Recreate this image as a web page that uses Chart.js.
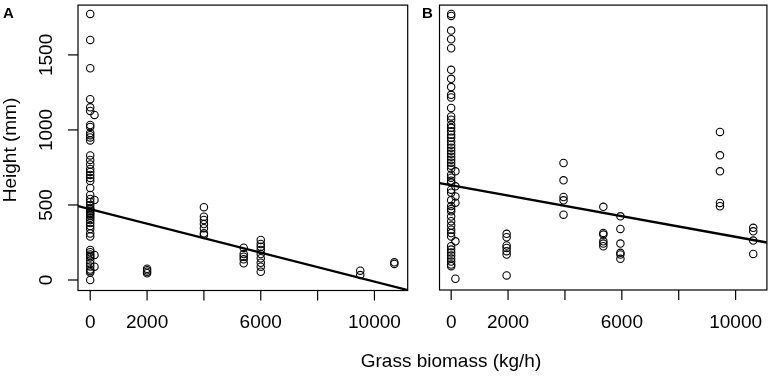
<!DOCTYPE html>
<html>
<head>
<meta charset="utf-8">
<script src="https://cdn.jsdelivr.net/npm/chart.js@4"></script>
<style>
    body { margin: 0; background: #fff; }
    #wrap { position: relative; width: 772px; height: 379px; overflow: hidden; }
    canvas { position: absolute; top: 0; }
    #xtitulo {
        position: absolute; left: 0; top: 350px; width: 902px;
        text-align: center; font: 19px "Liberation Sans", Arial, sans-serif; color: #000;
    }
</style>
</head>
<body>
<div id="wrap">
    <canvas id="chartA" width="420" height="379" style="left:0"></canvas>
    <canvas id="chartB" width="352" height="379" style="left:420px"></canvas>
    <div id="xtitulo">Grass biomass (kg/h)</div>
</div>
<script>
// valores
const biomassA = [0, 2000, 4000, 5400, 6000, 9500, 10700];
const biomassB = [0, 1950, 3950, 5350, 5950, 9450, 10620];
const offsetX = 150; // puntos desplazados junto a 0

// panel A, altura (mm) por grupo de biomasa
const heightA0 = [1773, 1600, 1411, 1205, 1151, 1127, 1033, 1020, 980, 965, 950, 930,
    830, 800, 770, 740, 720, 700, 680, 660, 613, 567, 540, 520, 500, 480, 470, 460,
    450, 440, 430, 415, 400, 380, 360, 340, 310, 290, 200, 185, 170, 160, 150, 130,
    110, 90, 70, 60, 50, 0];
const heightA0off = [1100, 533, 167, 89];
const heightA2000 = [75, 65, 55, 45];
const heightA4000 = [485, 422, 400, 373, 345, 311, 300];
const heightA5400 = [215, 173, 155, 138, 111];
const heightA6000 = [267, 240, 222, 200, 173, 145, 115, 89, 55];
const heightA9500 = [62, 33];
const heightA10700 = [118, 107];

// panel B
const heightB0 = [1773, 1760, 1662, 1604, 1544, 1400, 1340, 1285, 1233, 1215, 1145,
    1089, 1067, 1033, 1013, 989, 967, 947, 922, 900, 880, 860, 840, 820, 800, 780,
    760, 740, 700, 680, 660, 647, 600, 580, 530, 490, 470, 455, 420, 389, 360, 333,
    310, 287, 222, 200, 180, 160, 140, 120, 100, 89];
const heightB0off = [722, 622, 555, 513, 255, 5];
const heightB2000 = [305, 282, 227, 211, 189, 167, 27];
const heightB4000 = [778, 662, 551, 529, 433];
const heightB5400 = [485, 311, 300, 255, 240, 222];
const heightB6000 = [422, 338, 240, 178, 167, 138];
const heightB9500 = [985, 829, 722, 511, 489];
const heightB10700 = [345, 322, 260, 171];

const lineAx = [-430, 11170];
const lineAy = [493, -67];
const lineBx = [-410, 11100];
const lineBy = [644, 247];

const xTicks = [0, 2000, 4000, 6000, 8000, 10000];
const xTickLabels = ["0", "2000", "", "6000", "", "10000"];
const yTicks = [0, 500, 1000, 1500];
const yTickLabels = ["0", "500", "1000", "1500"];

const FUENTE = '"Liberation Sans", Arial, sans-serif';

function puntos(xs, grupos, off) {
    let res = [];
    grupos.forEach((g, i) => {
        g.forEach((h) => res.push({ x: xs[i], y: h }));
    });
    off.forEach((h) => res.push({ x: offsetX, y: h }));
    return res;
}

function ejes(conY, letra) {
    return {
        id: "ejes_" + letra,
        afterDraw(chart) {
            const ctx = chart.ctx;
            const a = chart.chartArea;
            const sx = chart.scales.x;
            const sy = chart.scales.y;
            ctx.save();
            ctx.strokeStyle = "#000";
            ctx.fillStyle = "#000";
            ctx.lineWidth = 1.2;
            ctx.strokeRect(a.left, a.top, a.right - a.left, a.bottom - a.top);
            ctx.font = "19px " + FUENTE;
            ctx.textAlign = "center";
            ctx.textBaseline = "middle";
            xTicks.forEach((v, i) => {
                const px = sx.getPixelForValue(v);
                ctx.beginPath();
                ctx.moveTo(px, a.bottom);
                ctx.lineTo(px, a.bottom + 10);
                ctx.stroke();
                if (xTickLabels[i] !== "") {
                    ctx.fillText(xTickLabels[i], px, 323);
                }
            });
            if (conY) {
                yTicks.forEach((v, i) => {
                    const py = sy.getPixelForValue(v);
                    ctx.beginPath();
                    ctx.moveTo(a.left, py);
                    ctx.lineTo(a.left - 10, py);
                    ctx.stroke();
                    ctx.save();
                    ctx.translate(47, py);
                    ctx.rotate(-Math.PI / 2);
                    ctx.fillText(yTickLabels[i], 0, 0);
                    ctx.restore();
                });
                ctx.save();
                ctx.translate(11, 150);
                ctx.rotate(-Math.PI / 2);
                ctx.fillText("Height (mm)", 0, 0);
                ctx.restore();
            }
            ctx.font = "bold 15px " + FUENTE;
            ctx.textAlign = "left";
            ctx.textBaseline = "alphabetic";
            ctx.fillText(letra, conY ? 3 : 2, 18);
            ctx.restore();
        },
    };
}

function crearPanel(id, datos, lx, ly, xmin, xmax, padding, conY, letra) {
    new Chart(document.getElementById(id).getContext("2d"), {
        type: "scatter",
        data: {
            datasets: [
                {
                    data: datos,
                    pointRadius: 3.7,
                    pointBorderWidth: 1.1,
                    borderColor: "#000",
                    backgroundColor: "rgba(0,0,0,0)",
                    pointStyle: "circle",
                },
                {
                    type: "line",
                    data: lx.map((x, i) => ({ x: x, y: ly[i] })),
                    borderColor: "#000",
                    borderWidth: 2.3,
                    pointRadius: 0,
                    fill: false,
                },
            ],
        },
        options: {
            responsive: false,
            animation: false,
            layout: { padding: padding },
            plugins: { legend: { display: false }, tooltip: { enabled: false } },
            scales: {
                x: { type: "linear", min: xmin, max: xmax, display: false },
                y: { type: "linear", min: -70, max: 1832, display: false },
            },
        },
        plugins: [ejes(conY, letra)],
    });
}

const datosA = puntos(biomassA,
    [heightA0, heightA2000, heightA4000, heightA5400, heightA6000, heightA9500, heightA10700],
    heightA0off);
const datosB = puntos(biomassB,
    [heightB0, heightB2000, heightB4000, heightB5400, heightB6000, heightB9500, heightB10700],
    heightB0off);

crearPanel("chartA", datosA, lineAx, lineAy, -430, 11170,
    { left: 78, right: 12.3, top: 4, bottom: 88.5 }, true, "A");
crearPanel("chartB", datosB, lineBx, lineBy, -410, 11100,
    { left: 19.5, right: 4.3, top: 3.3, bottom: 89 }, false, "B");
</script>
</body>
</html>
